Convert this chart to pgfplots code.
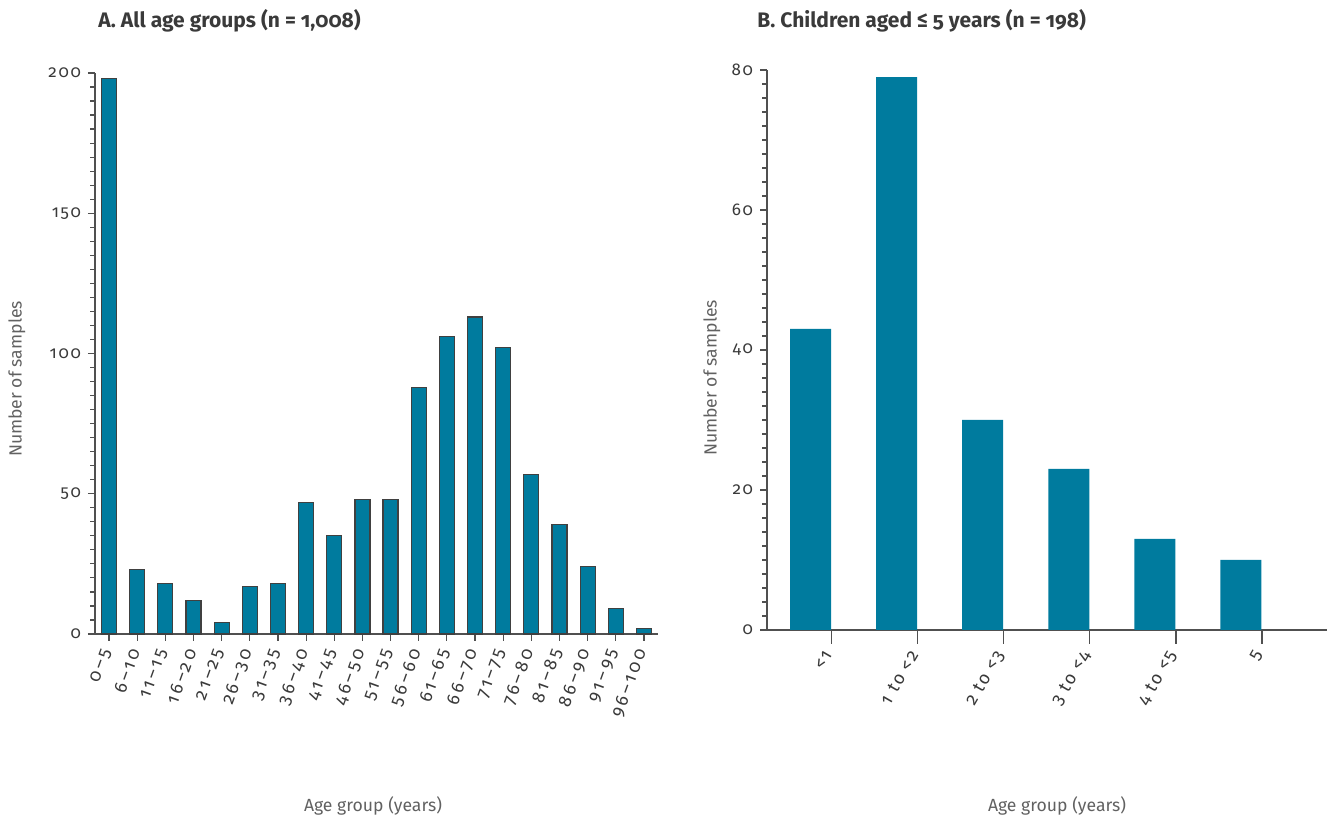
\documentclass[border=0pt]{standalone}
\usepackage{fontspec}
\setmainfont{Fira Sans}[Numbers=OldStyle]
\newfontfamily\tickfont{Fira Sans}[Numbers=OldStyle, LetterSpace=10]
\newfontfamily\xtickfont{Fira Sans}[Numbers=OldStyle, LetterSpace=16]
\usepackage{pgfplots}
\pgfplotsset{compat=1.18}
\definecolor{barc}{HTML}{007B9E}
\definecolor{txt}{HTML}{3A3A3A}
\definecolor{axc}{HTML}{505050}
\pgfplotsset{
  common/.style={
    scale only axis,
    anchor=south west,
    ybar,
    ymin=0,
    axis x line*=bottom,
    axis y line*=left,
    axis line style={axc, line width=0.7pt},
    tick style={axc, line width=0.6pt},
    tick align=outside,
    major tick length=3.5pt,
    minor tick length=2.5pt,
    minor y tick num=9,
    /pgf/number format/assume math mode=true,
    ticklabel style={font=\tickfont\fontsize{8.5}{10}\selectfont, text=txt},
    clip=false,
  }
}
\begin{document}
\begin{tikzpicture}
\useasboundingbox (0pt,0pt) rectangle (664pt,409pt);
% Panel A
\begin{axis}[common,
  at={(47.5pt,92pt)}, width=281.5pt, height=280.5pt,
  bar width=7.5pt,
  xmin=-0.5, xmax=19.5, ymax=200,
  ytick={0,50,100,150,200},
  xtick={0,...,19},
  xticklabels={0–5,6–10,11–15,16–20,21–25,26–30,31–35,36–40,41–45,46–50,51–55,56–60,61–65,66–70,71–75,76–80,81–85,86–90,91–95,96–100},
  x tick label style={rotate=70, anchor=east, font=\xtickfont\fontsize{9}{10}\selectfont},
  xticklabel shift=1pt,
]
\addplot[fill=barc, draw=black!75, line width=0.6pt] coordinates {
(0,198) (1,23) (2,18) (3,12) (4,4) (5,17) (6,18) (7,47) (8,35) (9,48)
(10,48) (11,88) (12,106) (13,113) (14,102) (15,57) (16,39) (17,24) (18,9) (19,2)
};
\end{axis}
% Panel B
\begin{axis}[common,
  at={(383.5pt,94pt)}, width=280pt, height=280pt,
  bar width=20.5pt,
  xmin=-0.506, xmax=6.0, ymax=80,
  ytick={0,20,40,60,80},
  minor y tick num=9,
  xtick={0.245,1.245,2.245,3.245,4.245,5.245},
  xticklabels={<1,1 to <2,2 to <3,3 to <4,4 to <5,5},
  xticklabel shift=4.5pt,
  x tick label style={rotate=60, anchor=east, font=\tickfont\fontsize{9}{10}\selectfont},
]
\addplot[fill=barc, draw=none] coordinates {
(0,43) (1,79) (2,30) (3,23) (4,13) (5,10)
};
\pgfplotsinvokeforeach{0,...,5}{\draw[axc, line width=0.6pt] (axis cs:#1.245,0) -- ++(0pt,-7pt);}
\end{axis}
% titles
\node[anchor=west, inner sep=0pt, text=txt, font=\bfseries\fontsize{10.5}{12}\selectfont] at (49pt,398.5pt) {A. All age groups (n = 1,008)};
\node[anchor=west, inner sep=0pt, text=txt, font=\bfseries\fontsize{10.5}{12}\selectfont] at (378.5pt,398.5pt) {B. Children aged ≤ 5 years (n = 198)};
% axis labels
\node[rotate=90, text=txt!80, font=\fontsize{8.8}{10}\selectfont] at (8.5pt,219.5pt) {Number of samples};
\node[rotate=90, text=txt!80, font=\fontsize{8.8}{10}\selectfont] at (356pt,220pt) {Number of samples};
\node[text=txt!80, font=\fontsize{8.8}{10}\selectfont] at (186.5pt,6pt) {Age group (years)};
\node[text=txt!80, font=\fontsize{8.8}{10}\selectfont] at (528.5pt,6pt) {Age group (years)};
\end{tikzpicture}
\end{document}
